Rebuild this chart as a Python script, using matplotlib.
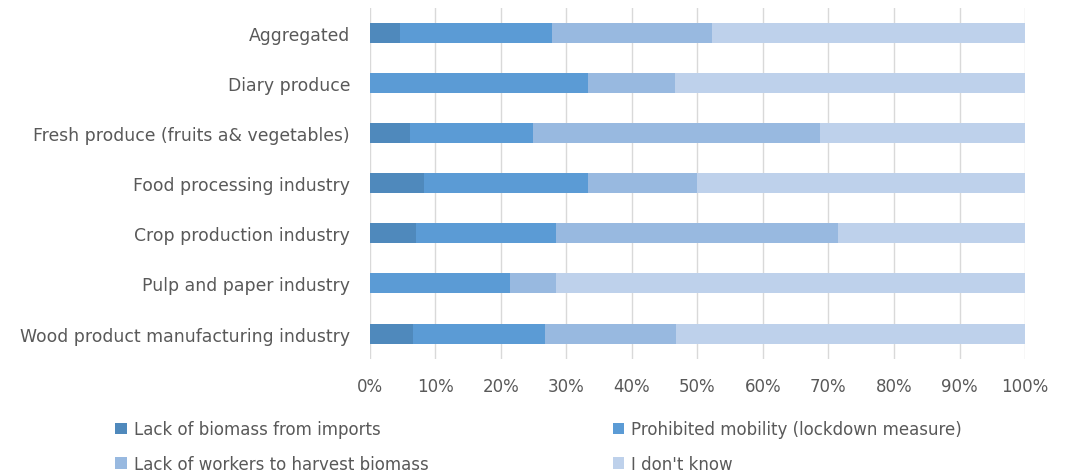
import matplotlib.pyplot as plt
import numpy as np
from matplotlib.ticker import PercentFormatter

categories = ["Aggregated", "Diary produce", "Fresh produce (fruits a& vegetables)",
              "Food processing industry", "Crop production industry",
              "Pulp and paper industry", "Wood product manufacturing industry"]
series_names = ["Lack of biomass from imports", "Prohibited mobility (lockdown measure)",
                "Lack of workers to harvest biomass", "I don't know"]

lack_imports = [4.7, 0.0, 6.25, 8.3, 7.1, 0.0, 6.7]
lockdown = [23.1, 33.3, 18.75, 25.0, 21.4, 21.4, 20.0]
lack_workers = [24.5, 13.3, 43.75, 16.7, 42.9, 7.1, 20.0]
dont_know = [47.7, 53.4, 31.25, 50.0, 28.6, 71.5, 53.3]

colors = ["#4F89BC", "#5B9BD5", "#98B9E0", "#BED1EB"]
text_color = "#595959"

plt.rcParams['font.family'] = ['DejaVu Sans']

fig = plt.figure(figsize=(10.68, 4.77), dpi=100)
ax = fig.add_axes([0.346, 0.2463, 0.6138, 0.734])

y = np.arange(len(categories))
left = np.zeros(len(categories))
handles = []
for name, vals, c in zip(series_names, [lack_imports, lockdown, lack_workers, dont_know], colors):
    vals = np.array(vals)
    h = ax.barh(y, vals, left=left, height=0.4, color=c, label=name, zorder=3)
    handles.append(h)
    left += vals

ax.set_ylim(len(categories) - 0.5, -0.5)
ax.set_xlim(0, 100)
ax.set_xticks(np.arange(0, 101, 10))
ax.xaxis.set_major_formatter(PercentFormatter(decimals=0))
ax.set_yticks(y)
ax.set_yticklabels(categories)
ax.grid(axis='x', color="#D9D9D9", linewidth=1.0, zorder=0)
for s in ax.spines.values():
    s.set_visible(False)
ax.tick_params(axis='both', length=0, labelsize=12, labelcolor=text_color)
ax.tick_params(axis='y', labelsize=12.4, pad=14)
ax.tick_params(axis='x', pad=13)

# legend: two rows, filled column by column
order = [0, 2, 1, 3]
fig.legend([handles[i] for i in order], [series_names[i] for i in order],
           ncol=2, loc='lower left', bbox_to_anchor=(0.094, -0.025), frameon=False,
           fontsize=12, labelcolor=text_color, handlelength=0.7, handleheight=0.7,
           handletextpad=0.4, columnspacing=11.05, labelspacing=1.0)

fig.savefig("out.png", dpi=100)
